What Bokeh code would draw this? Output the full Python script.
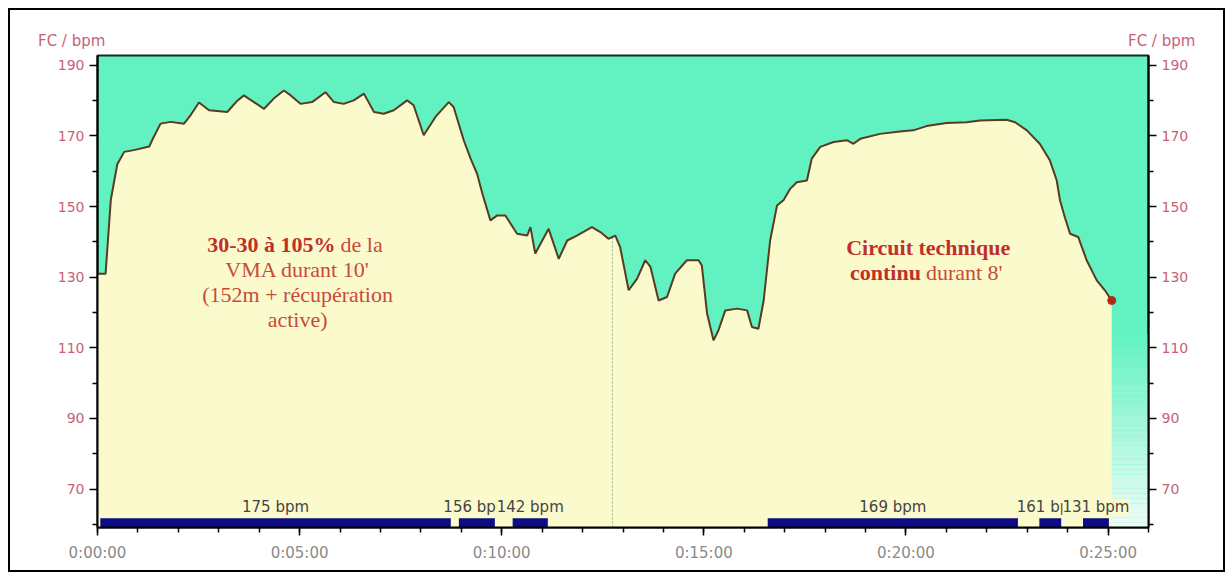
import numpy as np
from bokeh.plotting import figure
from bokeh.layouts import column
from bokeh.models import FixedTicker, LinearAxis, Range1d, Label, LabelSet, ColumnDataSource, Div
from bokeh.core.properties import value
from bokeh.embed import file_html
from bokeh.resources import INLINE

# ---------------- data ----------------
time_min = [0.0, 0.2, 0.33, 0.49, 0.66, 0.9, 1.28, 1.36, 1.56, 1.81,
            2.14, 2.31, 2.51, 2.76, 3.21, 3.46, 3.62, 3.87, 4.12, 4.36,
            4.61, 4.78, 5.02, 5.31, 5.64, 5.85, 6.09, 6.34, 6.59, 6.84,
            7.08, 7.33, 7.66, 7.82, 8.07, 8.36, 8.69, 8.81, 9.06, 9.23,
            9.39, 9.52, 9.72, 9.89, 10.09, 10.38, 10.63, 10.71, 10.83, 10.96,
            11.16, 11.41, 11.62, 11.86, 12.23, 12.44, 12.64, 12.81, 12.93, 13.14,
            13.35, 13.55, 13.68, 13.88, 14.09, 14.29, 14.58, 14.87, 14.95, 15.08,
            15.24, 15.36, 15.53, 15.82, 16.07, 16.19, 16.35, 16.48, 16.64, 16.81,
            16.97, 17.14, 17.30, 17.55, 17.67, 17.88, 18.21, 18.54, 18.70, 18.87,
            19.36, 19.85, 20.18, 20.51, 21.0, 21.5, 21.83, 22.49, 22.70, 22.99,
            23.31, 23.56, 23.73, 23.81, 23.93, 24.06, 24.26, 24.47, 24.72, 24.92,
            25.09]
hr_bpm = [131, 131, 152, 162, 165.5, 166, 167, 169, 173.5, 174,
          173.5, 176, 179.5, 177.3, 176.8, 180, 181.5, 179.6, 177.7, 180.6,
          182.9, 181.5, 179.1, 179.6, 182.4, 179.6, 179.1, 180.1, 182, 176.8,
          176.3, 177.3, 180.1, 178.7, 170.2, 175.4, 179.6, 178.2, 168.8, 163.6,
          159.3, 153.7, 146.1, 147.5, 147.5, 142.3, 141.8, 144.2, 136.7, 139.5,
          143.7, 135.2, 140.4, 141.8, 144.2, 142.8, 140.9, 141.8, 138.5, 126.3,
          129.6, 134.8, 132.9, 123.4, 124.4, 131.0, 134.8, 134.8, 133.3, 119.7,
          112.1, 114.9, 120.6, 121.1, 120.6, 115.9, 115.4, 123.4, 140.4, 150.3,
          151.8, 155.1, 156.9, 157.4, 163.6, 166.9, 168.3, 168.8, 167.8, 169.2,
          170.6, 171.3, 171.6, 172.8, 173.7, 173.9, 174.4, 174.6, 173.9, 171.6,
          167.8, 163.1, 157.4, 151.8, 147.0, 142.3, 141.4, 134.8, 129.1, 126.3,
          123.4]

seg_start = [0.07, 8.94, 10.27, 16.58, 23.30, 24.38]
seg_end = [8.74, 9.83, 11.14, 22.77, 23.84, 25.02]
seg_bpm = [175, 156, 142, 169, 161, 131]
seg_labels = [f"{v} bpm" for v in seg_bpm]

lap_marks = [12.74]

x_major = [0, 5, 10, 15, 20, 25]
x_labels = ["0:00:00", "0:05:00", "0:10:00", "0:15:00", "0:20:00", "0:25:00"]
x_minor = list(range(0, 27))
y_major = [70, 90, 110, 130, 150, 170, 190]
y_minor = [60, 80, 100, 120, 140, 160, 180]

axis_title = "FC / bpm"
note_left_bold = "30-30 à 105%"
note_left_rest = ["de la", "VMA durant 10'", "(152m + récupération", "active)"]
note_right_bold = ["Circuit technique", "continu"]
note_right_rest = "durant 8'"

# ---------------- style ----------------
TEAL = "#62F2C2"
YELLOW = "#FAFACD"
LINE = "#5a3a20"
NAVY = "#0c0c84"
YLAB = "#c8607a"
XLAB = "#8a8a8a"
RED_B = "#c0302a"
RED_N = "#c84a3a"

Y0, Y1 = 59.1, 192.8
X0, X1 = 0, 26
CW = 1213
TOP_H = 40

p = figure(frame_width=1051, frame_height=472,
           min_border_left=87, min_border_right=75, min_border_top=5, min_border_bottom=43,
           x_range=Range1d(X0, X1), y_range=Range1d(Y0, Y1),
           output_backend="svg", toolbar_location=None, tools="")
p.margin = 0
p.background_fill_color = TEAL
p.border_fill_color = "white"
p.outline_line_color = "#1a2a20"
p.outline_line_width = 2
p.grid.visible = False

# background gradient near the bottom (teal -> pale)
n = 40
edges = np.linspace(Y0, 114, n + 1)
c_top = np.array([0x62, 0xF2, 0xC2])
c_bot = np.array([0xEE, 0xFD, 0xF8])
cols = []
for i in range(n):
    f = (i + 0.5) / n
    c = (c_bot * (1 - f) + c_top * f).astype(int)
    cols.append("#%02x%02x%02x" % tuple(c))
p.quad(left=[X0] * n, right=[X1] * n, bottom=edges[:-1], top=edges[1:],
       fill_color=cols, line_color=None)

# area under curve
p.varea(x=time_min, y1=[Y0] * len(time_min), y2=hr_bpm, fill_color=YELLOW)

# lap marker
lap_top = [float(np.interp(t, time_min, hr_bpm)) for t in lap_marks]
p.segment(x0=lap_marks, y0=[Y0] * len(lap_marks), x1=lap_marks, y1=lap_top,
          line_color="#8fb48f", line_width=1, line_dash="2 2")

# HR curve
p.line(time_min, hr_bpm, line_color=LINE, line_width=2)
p.scatter([time_min[-1]], [hr_bpm[-1]], size=8, color="#b02818")

# segment bars
p.quad(left=seg_start, right=seg_end, bottom=[Y0] * len(seg_start),
       top=[Y0 + 2.6] * len(seg_start), fill_color=NAVY, line_color=None)
seg_src = ColumnDataSource(dict(
    x=[(a + b) / 2 for a, b in zip(seg_start, seg_end)],
    y=[Y0 + 5.7] * len(seg_start),
    text=seg_labels))
p.add_layout(LabelSet(x="x", y="y", text="text", source=seg_src,
                      text_align="center", text_baseline="middle",
                      text_font=value("DejaVu Sans"), text_font_size=value("15px"),
                      text_color="#444444",
                      background_fill_color=YELLOW, background_fill_alpha=1.0))

# axes
p.xaxis.ticker = FixedTicker(ticks=x_major, minor_ticks=x_minor)
p.xaxis.major_label_overrides = {t: l for t, l in zip(x_major, x_labels)}
p.yaxis.ticker = FixedTicker(ticks=y_major, minor_ticks=y_minor)
ry = LinearAxis(ticker=FixedTicker(ticks=y_major, minor_ticks=y_minor))
p.add_layout(ry, "right")

for ax in [p.xaxis[0], p.yaxis[0], ry]:
    ax.axis_line_color = "black"
    ax.axis_line_width = 2
    ax.major_tick_line_color = "black"
    ax.major_tick_line_width = 1.5
    ax.minor_tick_line_color = "black"
    ax.minor_tick_line_width = 1.5
    ax.major_tick_out = 8
    ax.major_tick_in = 0
    ax.minor_tick_out = 5
    ax.minor_tick_in = 0
    ax.major_label_text_font = "DejaVu Sans"
for ax in [p.yaxis[0], ry]:
    ax.major_label_text_color = YLAB
    ax.major_label_text_font_size = "14px"
    ax.major_label_standoff = 5
p.xaxis.major_label_text_color = XLAB
p.xaxis.major_label_text_font_size = "15px"
p.xaxis.major_label_standoff = 8

# annotations
SERIF = "Liberation Serif"
FS = "22px"
lx, lsplit = 4.95, 5.89
ly = [139.3, 132.2, 125.1, 118.0]
p.add_layout(Label(x=lsplit, y=ly[0], text=note_left_bold, text_align="right",
                   text_baseline="middle", text_font=SERIF, text_font_size=FS,
                   text_font_style="bold", text_color=RED_B))
p.add_layout(Label(x=lsplit, y=ly[0], x_offset=5, text=note_left_rest[0], text_align="left",
                   text_baseline="middle", text_font=SERIF, text_font_size=FS,
                   text_color=RED_N))
for txt, yy in zip(note_left_rest[1:], ly[1:]):
    p.add_layout(Label(x=lx, y=yy, text=txt, text_align="center",
                       text_baseline="middle", text_font=SERIF, text_font_size=FS,
                       text_color=RED_N))

rx, rsplit = 20.55, 20.37
ry_pos = [138.5, 131.4]
p.add_layout(Label(x=rx, y=ry_pos[0], text=note_right_bold[0], text_align="center",
                   text_baseline="middle", text_font=SERIF, text_font_size=FS,
                   text_font_style="bold", text_color=RED_B))
p.add_layout(Label(x=rsplit, y=ry_pos[1], text=note_right_bold[1], text_align="right",
                   text_baseline="middle", text_font=SERIF, text_font_size=FS,
                   text_font_style="bold", text_color=RED_B))
p.add_layout(Label(x=rsplit, y=ry_pos[1], x_offset=5, text=note_right_rest, text_align="left",
                   text_baseline="middle", text_font=SERIF, text_font_size=FS,
                   text_color=RED_N))

# top strip with the two axis titles
top_html = (
    f'<div style="position:relative;width:{CW}px;height:{TOP_H}px;'
    f"font-family:'DejaVu Sans';font-size:15px;line-height:18px;color:{YLAB};\">"
    f'<span style="position:absolute;left:28px;top:22px;white-space:nowrap;">{axis_title}</span>'
    f'<span style="position:absolute;left:1118px;top:22px;white-space:nowrap;">{axis_title}</span>'
    f'</div>'
)
top = Div(text=top_html, width=CW, height=TOP_H, margin=0,
          styles={"background-color": "white"})

layout = column(top, p, spacing=0, margin=0,
                styles={"border": "2px solid #000000", "margin-left": "8px",
                        "margin-top": "8px", "background-color": "white"})

open("out.html", "w").write(file_html(layout, INLINE))
